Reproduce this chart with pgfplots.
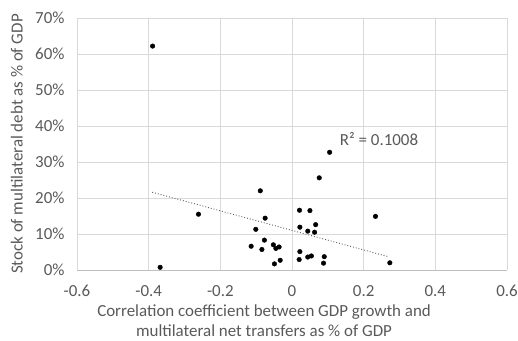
\documentclass[border=0pt]{standalone}
\usepackage{pgfplots}
\pgfplotsset{compat=1.18}
\usepackage{fontspec}
\setmainfont{Carlito}
\definecolor{txt}{HTML}{595959}
\definecolor{grd}{HTML}{D9D9D9}
\definecolor{axl}{HTML}{BFBFBF}
\begin{document}
\begin{tikzpicture}
\begin{axis}[
  scale only axis, width=430bp, height=252bp,
  xmin=-0.6, xmax=0.6, ymin=0, ymax=70,
  xtick={-0.6,-0.4,-0.2,0,0.2,0.4,0.6},
  xticklabels={-0.6,-0.4,-0.2,0,0.2,0.4,0.6},
  ytick={0,10,20,30,40,50,60,70},
  yticklabels={0\%,10\%,20\%,30\%,40\%,50\%,60\%,70\%},
  grid=major, major grid style={grd, line width=0.75pt},
  axis line style={draw=none},
  major tick length=0pt,
  tick label style={font=\fontsize{17}{20}\selectfont, text=txt},
  xticklabel style={yshift=-12bp},
  yticklabel style={xshift=-9bp},
  xlabel={Correlation coefficient between GDP growth and\\multilateral net transfers as \% of GDP},
  xlabel style={font=\fontsize{17}{19.5}\selectfont, text=txt, align=center,
    at={(axis description cs:0.435,-0.125)}, anchor=north},
  ylabel={Stock of multilateral debt as \% of GDP},
  ylabel style={font=\fontsize{17}{20}\selectfont, text=txt,
    at={(axis description cs:-0.118,0.5)}, anchor=south, rotate=0},
  clip=false,
]
\draw[axl, line width=0.8pt] (axis cs:-0.6,0) -- (axis cs:0.6,0);
\addplot[only marks, mark=*, mark size=2.3bp, black] coordinates {
(-0.0885,22.0) (0.021,16.6) (0.050,16.5) (-0.075,14.4) (-0.101,11.3)
(0.022,11.9) (0.066,12.6) (0.044,10.8) (0.063,10.5) (-0.077,8.3)
(-0.114,6.6) (-0.084,5.7) (-0.052,7.0) (-0.045,6.0) (-0.036,6.4)
(-0.049,1.7) (-0.033,2.7) (0.022,5.1) (0.020,2.9) (0.044,3.6)
(0.054,3.9) (0.090,3.7) (0.088,1.9) (0.076,25.6) (0.105,32.7)
(-0.261,15.5) (-0.389,62.2) (-0.368,0.75) (0.233,14.9) (0.273,2.0)
};
\addplot[txt, line width=0.9pt, dotted] coordinates {(-0.39,21.6) (0.269,3.7)};
\node[font=\fontsize{17}{20}\selectfont, text=txt] at (axis cs:0.243,36.4) {R² = 0.1008};
\end{axis}
\pgfresetboundingbox
\path[use as bounding box] ([shift={(-77bp,-71bp)}]current axis.south west) rectangle ([shift={(11bp,18bp)}]current axis.north east);
\end{tikzpicture}
\end{document}
